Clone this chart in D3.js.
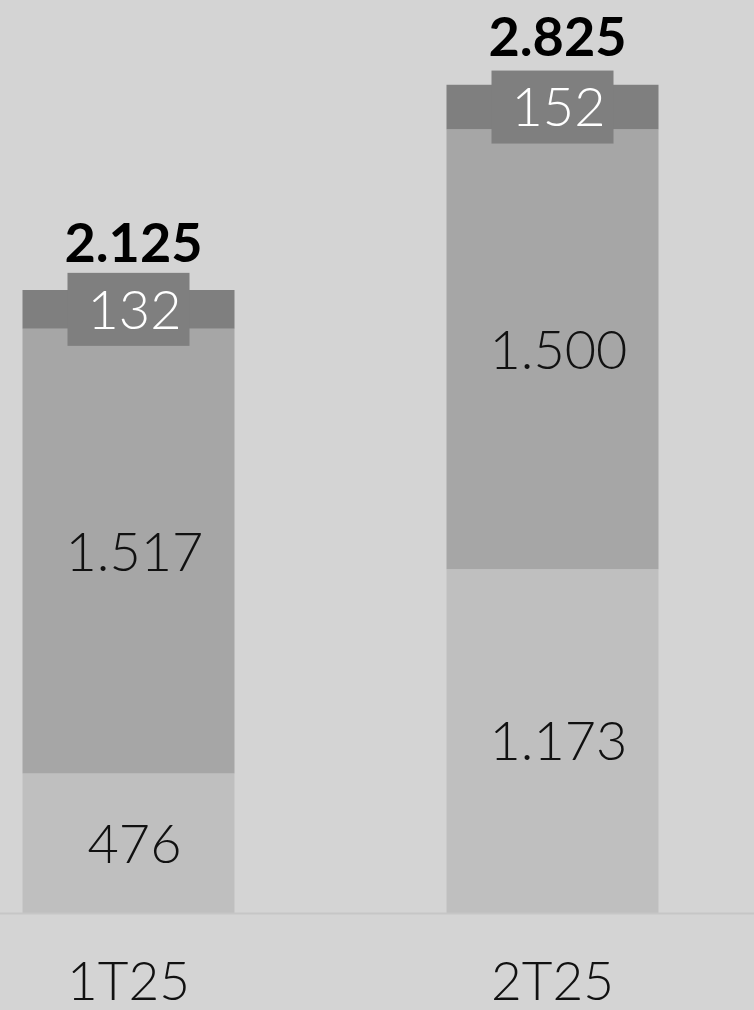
<!DOCTYPE html>
<html><head><meta charset="utf-8">
<script src="https://cdn.jsdelivr.net/npm/d3@7"></script>
<style>html,body{margin:0;padding:0;background:#d4d4d4;}svg{display:block;}</style>
</head><body>
<script>
const categories = ["1T25", "2T25"];
const seriesNames = ["base", "middle", "top"];
const baseValues = [476, 1173];
const middleValues = [1517, 1500];
const topValues = [132, 152];
const totalLabels = ["2.125", "2.825"];
const segmentLabels = [["476", "1.517", "132"], ["1.173", "1.500", "152"]];

const W = 754, H = 1010;
const colors = ["#bfbfbf", "#a6a6a6", "#7f7f7f"];
const svg = d3.select("body").append("svg").attr("width", W).attr("height", H);
svg.append("rect").attr("width", W).attr("height", H).attr("fill", "#d4d4d4");

const rows = categories.map((c, i) => ({cat: c, base: baseValues[i], middle: middleValues[i], top: topValues[i]}));
const stack = d3.stack().keys(seriesNames)(rows);

const x = d3.scaleBand().domain(categories).range([-83.5, 764.5]).paddingInner(0.5).paddingOuter(0.25);
const y = d3.scaleLinear().domain([0, 2125]).range([913, 290]);

const font = "Lato, 'Open Sans', sans-serif";

stack.forEach((layer, k) => {
  svg.append("g").selectAll("rect").data(layer).join("rect")
    .attr("x", d => x(d.data.cat))
    .attr("width", x.bandwidth())
    .attr("y", d => y(d[1]))
    .attr("height", d => y(d[0]) - y(d[1]))
    .attr("fill", colors[k]);
});

// label box for top segment
const topLayer = stack[2];
svg.append("g").selectAll("rect").data(topLayer).join("rect")
  .attr("x", d => x(d.data.cat) + x.bandwidth() / 2 - 61)
  .attr("width", 122)
  .attr("y", d => (y(d[0]) + y(d[1])) / 2 - 36.5)
  .attr("height", 73)
  .attr("fill", colors[2]);

// axis line
svg.append("line").attr("x1", 0).attr("x2", W).attr("y1", 913.5).attr("y2", 913.5)
  .attr("stroke", "#c6c6c6").attr("stroke-width", 2);

// segment labels
stack.forEach((layer, k) => {
  svg.append("g").selectAll("text").data(layer).join("text")
    .attr("x", d => x(d.data.cat) + x.bandwidth() / 2 + 6)
    .attr("y", d => (y(d[0]) + y(d[1])) / 2)
    .attr("dy", "0.36em")
    .attr("text-anchor", "middle")
    .attr("font-family", font).attr("font-weight", 300).attr("font-size", 54)
    .attr("fill", k === 2 ? "#ffffff" : "#111111")
    .text((d, i) => segmentLabels[i][k]);
});

// totals
svg.append("g").selectAll("text").data(topLayer).join("text")
  .attr("x", d => x(d.data.cat) + x.bandwidth() / 2 + 5)
  .attr("y", d => y(d[1]) - 28.5)
  .attr("text-anchor", "middle")
  .attr("font-family", font).attr("font-weight", 700).attr("font-size", 54)
  .attr("fill", "#000000")
  .text((d, i) => totalLabels[i]);

// category axis labels
svg.append("g").selectAll("text").data(categories).join("text")
  .attr("x", d => x(d) + x.bandwidth() / 2)
  .attr("y", 1000)
  .attr("text-anchor", "middle")
  .attr("font-family", font).attr("font-weight", 300).attr("font-size", 53)
  .attr("fill", "#111111")
  .text(d => d);
</script>
</body></html>
